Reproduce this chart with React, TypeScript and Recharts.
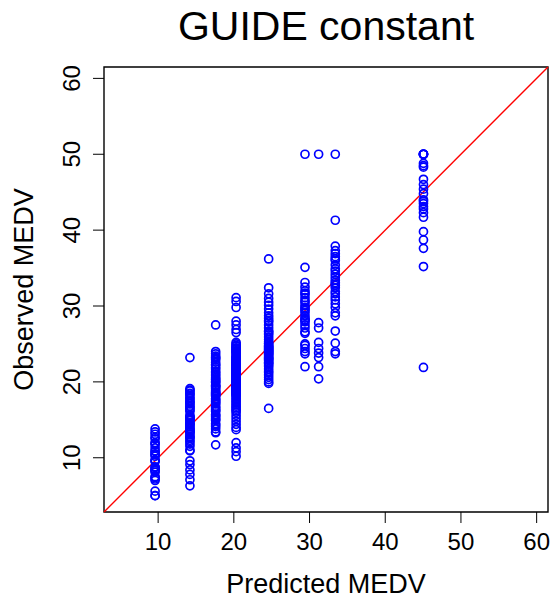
import { ScatterChart, Scatter, XAxis, YAxis, ReferenceLine, ReferenceArea, Label } from 'recharts'

const FONT = '"Liberation Sans", Arial, Helvetica, sans-serif'

// axis range (R pads 4% around the limits)
const LO = 2.85
const HI = 61.5
const TICKS = [10, 20, 30, 40, 50, 60]

// predicted value of each GUIDE leaf (constant model)
const leafPred = [9.6, 14.2, 17.6, 20.3, 24.6, 29.4, 31.2, 33.4, 45.05]

// observed MEDV in each leaf
const obs1 = [5.0, 5.0, 5.6, 7.0, 7.2, 7.4, 7.5, 8.1, 8.3, 8.4, 8.5, 8.7, 8.8, 9.5, 9.6, 9.7, 10.2, 10.4, 10.5, 10.8, 10.9, 11.3, 11.7, 11.9, 12.0, 12.5, 12.7, 13.1, 13.4, 13.8]
const obs2 = [23.2, 19.1, 18.9, 18.8, 18.5, 18.4, 18.2, 17.9, 17.8, 17.5, 17.4, 17.2, 17.1, 16.8, 16.7, 16.5, 16.3, 16.1, 15.6, 15.4, 15.3, 15.2, 15.1, 15.0, 14.9, 14.6, 14.5, 14.4, 14.3, 14.1, 13.9, 13.8, 13.6, 13.5, 13.4, 13.3, 13.1, 12.8, 12.7, 12.6, 12.3, 12.1, 11.8, 11.5, 11.0, 10.9, 9.6, 9.1, 8.4, 7.8, 7.1, 6.3]
const obs3 = [27.5, 24.0, 23.7, 23.4, 23.2, 23.1, 22.9, 22.6, 22.3, 22.2, 21.9, 21.7, 21.4, 21.2, 21.0, 20.8, 20.6, 20.4, 20.3, 20.1, 20.0, 19.9, 19.6, 19.5, 19.4, 19.3, 19.1, 18.9, 18.7, 18.6, 18.5, 18.4, 18.3, 18.2, 18.1, 17.8, 17.7, 17.5, 17.4, 17.2, 17.1, 16.8, 16.6, 16.4, 16.2, 16.1, 15.7, 15.6, 15.4, 15.2, 15.0, 14.9, 14.5, 14.3, 14.1, 13.8, 13.4, 13.3, 11.7]
const obs4 = [31.1, 30.6, 29.8, 28.0, 27.5, 26.9, 26.5, 25.2, 25.0, 24.8, 24.7, 24.5, 24.4, 24.3, 24.1, 24.0, 23.9, 23.8, 23.6, 23.4, 23.3, 23.2, 23.1, 23.0, 22.9, 22.8, 22.7, 22.6, 22.5, 22.4, 22.3, 22.2, 22.1, 22.0, 21.9, 21.8, 21.7, 21.6, 21.5, 21.4, 21.3, 21.2, 21.1, 21.0, 20.9, 20.8, 20.7, 20.6, 20.5, 20.4, 20.3, 20.2, 20.1, 20.0, 19.9, 19.8, 19.7, 19.6, 19.5, 19.4, 19.3, 19.2, 19.1, 19.0, 18.9, 18.8, 18.7, 18.6, 18.5, 18.4, 18.3, 18.2, 18.0, 17.8, 17.6, 17.4, 17.2, 17.0, 16.8, 16.6, 16.4, 16.2, 16.0, 15.6, 15.2, 14.8, 14.4, 14.0, 13.7, 12.0, 11.3, 10.8, 10.2]
const obs5 = [36.2, 32.4, 31.6, 31.0, 30.5, 30.1, 29.6, 29.1, 28.7, 28.4, 28.1, 27.9, 27.5, 27.1, 26.7, 26.6, 26.4, 26.2, 25.9, 25.6, 25.3, 25.1, 25.0, 24.8, 24.7, 24.6, 24.5, 24.4, 24.3, 24.2, 24.1, 24.0, 23.9, 23.8, 23.7, 23.6, 23.5, 23.3, 23.2, 23.1, 23.0, 22.9, 22.8, 22.6, 22.5, 22.4, 22.2, 22.0, 21.7, 21.4, 21.2, 20.9, 20.6, 20.3, 20.0, 19.8, 16.5]
const obs6 = [50.0, 35.1, 33.1, 32.5, 32.0, 31.7, 31.5, 31.1, 30.7, 30.5, 30.1, 29.8, 29.6, 29.4, 29.1, 28.7, 28.4, 28.2, 28.1, 27.9, 27.5, 27.1, 26.6, 26.4, 25.0, 24.8, 24.4, 24.0, 23.7, 22.0]
const obs7 = [50.0, 27.8, 27.1, 25.2, 24.4, 23.8, 23.2, 22.0, 20.4]
const obs8 = [50.0, 41.3, 37.9, 37.3, 36.9, 36.5, 36.2, 36.0, 35.4, 34.9, 34.6, 34.2, 33.8, 33.4, 33.1, 32.9, 32.7, 32.4, 31.9, 31.6, 31.2, 30.8, 30.3, 29.8, 29.1, 28.7, 26.7, 25.1, 24.0, 23.7]
const obs9 = [50.0, 50.0, 50.0, 50.0, 50.0, 48.8, 48.5, 48.3, 46.7, 46.0, 45.4, 44.8, 44.0, 43.8, 43.5, 43.1, 42.8, 42.3, 41.7, 39.8, 38.7, 37.6, 35.2, 21.9]

const leafObs = [obs1, obs2, obs3, obs4, obs5, obs6, obs7, obs8, obs9]

const points = leafObs.flatMap((vals, i) => vals.map(v => ({ pred: leafPred[i], obs: v })))

const Ring = (p: any) => <circle cx={p.cx} cy={p.cy} r={4} fill="none" stroke="#0000ff" strokeWidth={1.7} />

const YTick = ({ x, y, payload }: any) => (
  <text x={x} y={y} transform={`rotate(-90 ${x} ${y})`} textAnchor="middle" fontSize={24} fill="#000" fontFamily={FONT}>
    {payload.value}
  </text>
)

const YTitle = ({ viewBox }: any) => {
  const cy = viewBox.y + viewBox.height / 2
  return (
    <text x={33} y={cy} transform={`rotate(-90 33 ${cy})`} textAnchor="middle" fontSize={27} fill="#000" fontFamily={FONT}>
      Observed MEDV
    </text>
  )
}

const XTitle = ({ viewBox }: any) => (
  <text x={viewBox.x + viewBox.width / 2} y={593} textAnchor="middle" fontSize={27} fill="#000" fontFamily={FONT}>
    Predicted MEDV
  </text>
)

export default function App() {
  return (
    <div style={{ position: 'absolute', left: 0, top: 0, width: 556, height: 602, background: '#fff', fontFamily: FONT }}>
      <div style={{ position: 'absolute', left: 104, top: 6, width: 444, textAlign: 'center', fontSize: 41, lineHeight: '40px', color: '#000' }}>
        GUIDE constant
      </div>
      <ScatterChart width={556} height={602} margin={{ top: 67, right: 8, bottom: 0, left: 0 }}>
        <XAxis
          type="number"
          dataKey="pred"
          domain={[LO, HI]}
          ticks={TICKS}
          allowDataOverflow
          axisLine={false}
          stroke="#000"
          tickSize={11}
          tickMargin={10}
          height={90}
          tick={{ fill: '#000', fontSize: 24, fontFamily: FONT }}
        >
          <Label content={XTitle} />
        </XAxis>
        <YAxis
          type="number"
          dataKey="obs"
          domain={[LO, HI]}
          ticks={TICKS}
          allowDataOverflow
          axisLine={false}
          stroke="#000"
          tickSize={11}
          tickMargin={13}
          width={104}
          tick={YTick}
        >
          <Label content={YTitle} />
        </YAxis>
        <ReferenceArea x1={LO} x2={HI} y1={LO} y2={HI} fill="none" fillOpacity={0} stroke="#000" strokeWidth={1.4} />
        <Scatter data={points} shape={Ring} isAnimationActive={false} />
        <ReferenceLine segment={[{ x: LO, y: LO }, { x: HI, y: HI }]} stroke="#ff0000" strokeWidth={1.4} />
      </ScatterChart>
    </div>
  )
}
